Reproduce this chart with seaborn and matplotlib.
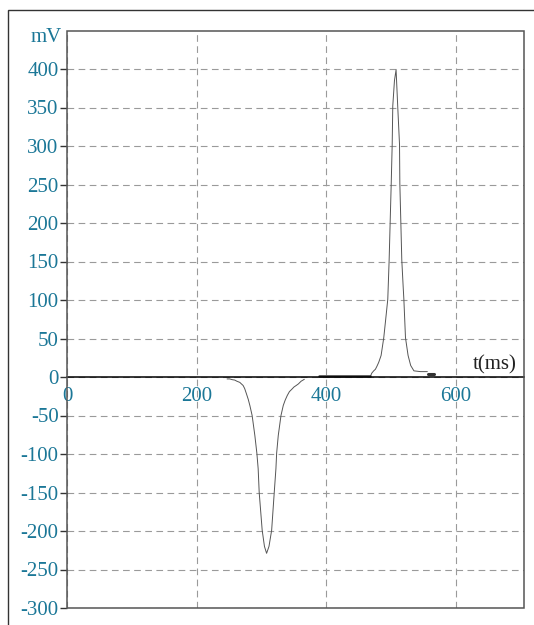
import seaborn as sns
import pandas as pd
import matplotlib
matplotlib.use("Agg")
import matplotlib.pyplot as plt
from matplotlib.patches import Rectangle

# negative pulse (t in ms, mV)
neg_t = [246.8, 251.0, 255.0, 258.7, 262.0, 266.5, 269.0, 271.6, 274.0, 276.8, 279.5, 282.0,
         285.5, 289.7, 292.8, 294.8, 296.4, 301.0, 304.5, 307.8, 311.5, 315.6, 319.6, 322.2,
         323.3, 325.8, 330.0, 333.5, 336.5, 339.7, 343.0, 346.6, 350.0, 353.5, 356.8, 361.0, 366.0]
neg_v = [-2.5, -2.5, -3.5, -4.0, -5.5, -7.0, -9.0, -11.0, -15.0, -22.0, -29.0, -37.0,
         -50.0, -76.0, -99.0, -119.0, -150.0, -199.0, -220.0, -229.0, -220.0, -199.0, -150.0, -119.0,
         -99.0, -76.0, -50.0, -37.0, -30.0, -24.0, -19.0, -16.0, -13.0, -11.0, -9.0, -5.5, -3.0]

# positive pulse
pos_t = [468.0, 470.0, 473.0, 475.6, 478.0, 480.7, 484.4, 488.5, 491.5, 494.7, 496.8, 498.4,
         500.0, 501.5, 502.4, 505.0, 507.5, 510.0, 512.8, 513.3, 514.8, 516.3, 518.5, 519.5,
         522.0, 526.0, 530.0, 535.0, 545.0, 555.7]
pos_v = [1.0, 5.0, 8.0, 10.0, 14.0, 19.0, 28.0, 51.0, 75.0, 101.0, 152.0, 202.0,
         251.0, 302.0, 352.0, 385.0, 399.0, 352.0, 302.0, 251.0, 202.0, 152.0, 116.0, 101.0,
         51.0, 28.0, 15.0, 8.0, 7.0, 7.0]

# thick flat stretches of the trace
base_t = [388.0, 468.0]
base_v = [1.0, 1.0]
tail_t = [556.0, 566.0]
tail_v = [4.5, 4.5]

x_ticks = [0, 200, 400, 600]
y_ticks = [-300, -250, -200, -150, -100, -50, 0, 50, 100, 150, 200, 250, 300, 350, 400]

teal = "#1b7797"
trace = "#555555"

sns.set_theme(style="white")
plt.rcParams["font.family"] = ["Liberation Serif", "DejaVu Serif"]

fig = plt.figure(figsize=(5.34, 6.25), dpi=100)
ax = fig.add_axes([67 / 534, 1 - 608 / 625, (523.5 - 67) / 534, (608 - 30.5) / 625])

neg = pd.DataFrame({"t": neg_t, "v": neg_v})
pos = pd.DataFrame({"t": pos_t, "v": pos_v})
sns.lineplot(data=neg, x="t", y="v", ax=ax, color=trace, lw=0.7, sort=False, estimator=None)
sns.lineplot(data=pos, x="t", y="v", ax=ax, color=trace, lw=0.7, sort=False, estimator=None)
sns.lineplot(x=base_t, y=base_v, ax=ax, color="#333333", lw=1.8, sort=False, estimator=None)
sns.lineplot(x=tail_t, y=tail_v, ax=ax, color="#333333", lw=2.2, sort=False, estimator=None)

ax.set_xlim(0, 704)
ax.set_ylim(-300, 450)
ax.set_xticks(x_ticks)
ax.set_yticks(y_ticks)
ax.set_xticklabels([str(v) for v in x_ticks])
ax.set_yticklabels([str(v) for v in y_ticks])
ax.set_xlabel("")
ax.set_ylabel("")

ax.grid(True, color="#9a9a9a", lw=0.8, linestyle=(0, (6, 4)))
ax.set_axisbelow(True)

for side in ["left", "right", "top"]:
    ax.spines[side].set_visible(False)
ax.spines["bottom"].set_position(("data", 0))
ax.spines["bottom"].set_color("black")
ax.spines["bottom"].set_linewidth(1.1)
ax.spines["bottom"].set_zorder(3)

ax.add_patch(Rectangle((0, 0), 1, 1, transform=ax.transAxes, fill=False,
                       ec="#555555", lw=1.1, clip_on=False, zorder=4))

ax.tick_params(axis="y", direction="out", length=5, width=1, color="#333333",
               labelcolor=teal, labelsize=15, pad=1, left=True)
ax.tick_params(axis="x", length=0, labelcolor=teal, labelsize=15, pad=7)

ax.text(-0.012, 441, "mV", transform=ax.get_yaxis_transform(), ha="right", va="center",
        color=teal, fontsize=15)
ax.text(694, 3, "t(ms)", ha="right", va="bottom", color="#222222", fontsize=15)

fig.patches.append(Rectangle((7.5 / 534, -0.1), 1.2, (625 - 10) / 625 + 0.1,
                             transform=fig.transFigure, fill=False, ec="#333333", lw=1.0))

fig.savefig("out.png", dpi=100)
